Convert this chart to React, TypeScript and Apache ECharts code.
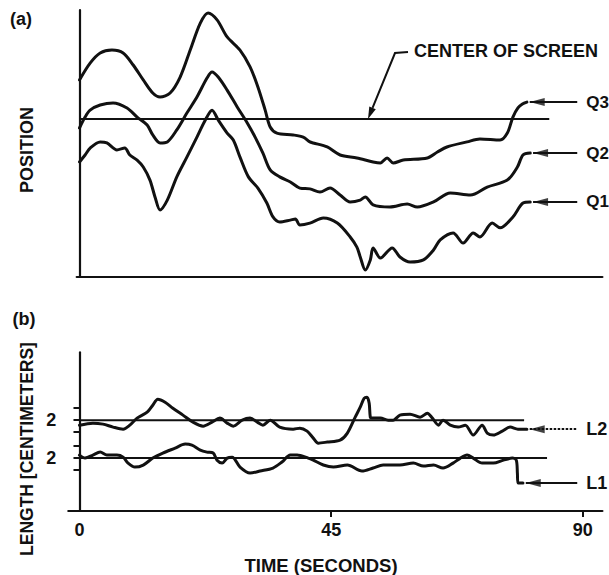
import React, { useEffect, useRef } from "react";
import * as echarts from "echarts";

const FONT = '"Liberation Sans", Arial, Helvetica, sans-serif';
const INK = "#111";

// ---- Panel (a): position (arbitrary units, 0-100) vs time (s) ----
const Q3: [number, number][] = [
  [0, 73.8], [1.9, 80.1], [3.7, 83.9], [5.8, 85.0], [7.8, 83.9], [9.6, 79.4], [11.4, 73.8],
  [13.1, 68.9], [14.4, 67.4], [16.2, 68.9], [18.0, 74.9], [19.8, 85.0], [21.6, 95.1], [23.0, 98.9],
  [24.6, 96.3], [26.4, 89.9], [28.7, 85.0], [30.5, 78.7], [31.9, 71.2], [33.2, 62.5], [34.1, 56.2],
  [35.3, 53.9], [38.2, 53.2], [40.0, 52.4], [41.2, 50.6], [41.8, 50.2], [44.3, 48.7], [46.6, 45.7],
  [49.6, 44.6], [52.5, 43.1], [53.8, 42.7], [55.0, 44.6], [56.1, 42.7], [57.9, 43.8], [62.2, 44.6],
  [64.0, 46.8], [65.7, 48.7], [69.3, 50.6], [71.6, 51.7], [75.2, 51.3], [76.5, 53.9], [77.5, 59.9],
  [78.4, 63.3], [79.2, 64.8], [80.0, 65.5],
];
const Q2: [number, number][] = [
  [0, 55.8], [1.0, 59.9], [1.9, 62.5], [3.7, 64.4], [6.0, 65.2], [8.5, 63.3], [10.3, 59.9],
  [12.1, 56.9], [13.1, 53.2], [14.4, 50.2], [15.7, 50.6], [17.4, 55.1], [19.2, 61.4], [21.0, 67.4],
  [22.8, 74.5], [23.7, 76.8], [24.8, 74.9], [26.4, 70.0], [28.2, 63.7], [30.0, 57.7], [31.4, 52.4],
  [32.8, 46.4], [34.1, 40.1], [35.8, 37.5], [37.7, 35.6], [39.4, 33.3], [41.2, 33.0], [43.0, 31.8],
  [44.8, 33.3], [46.6, 30.7], [48.4, 28.1], [50.2, 28.8], [51.1, 30.0], [52.5, 27.0], [55.5, 26.2],
  [58.6, 27.3], [60.4, 26.2], [63.3, 28.1], [66.3, 31.5], [69.9, 30.7], [72.9, 33.7], [76.5, 36.3],
  [78.3, 41.2], [79.3, 45.7], [80.6, 46.4],
];
const Q1: [number, number][] = [
  [0, 43.1], [1.0, 45.7], [1.9, 48.3], [3.7, 50.6], [4.9, 50.2], [6.7, 47.6], [8.1, 48.3],
  [9.0, 45.7], [10.3, 43.8], [11.4, 41.2], [12.6, 36.3], [13.5, 30.0], [14.4, 25.1], [15.7, 28.8],
  [17.4, 37.5], [19.2, 44.9], [21.0, 52.4], [22.5, 58.8], [23.7, 62.5], [24.8, 58.8], [26.4, 53.9],
  [27.5, 51.3], [28.7, 44.9], [30.2, 37.5], [31.9, 33.3], [33.5, 27.7], [34.6, 22.5], [35.8, 20.6],
  [37.7, 21.3], [38.6, 21.7], [39.4, 19.5], [41.2, 20.2], [43.6, 22.1], [46.1, 20.2], [48.4, 15.0],
  [49.6, 11.2], [50.2, 7.5], [51.1, 2.6], [52.0, 6.4], [52.5, 10.9], [53.8, 7.1], [55.9, 10.9],
  [57.3, 7.5], [59.1, 5.6], [61.5, 6.4], [63.3, 10.1], [64.5, 13.9], [66.8, 16.5], [68.6, 12.7],
  [70.4, 16.5], [71.6, 15.0], [73.8, 20.2], [75.2, 18.4], [77.5, 22.5], [79.3, 27.7], [80.6, 28.1],
];
const CENTER_OF_SCREEN = 59.2;
const CENTER_LINE_END = 84;

// ---- Panel (b): length (cm) vs time (s) ----
const L2: [number, number][] = [
  [0, 1.58], [2.4, 1.75], [4.2, 1.67], [6.0, 1.42], [7.8, 1.25], [9.0, 1.58], [10.3, 2.17],
  [12.1, 2.67], [13.1, 3.25], [14.0, 3.75], [15.3, 3.5], [16.7, 3.0], [18.5, 2.42], [20.3, 1.83],
  [22.1, 1.5], [23.7, 1.83], [25.1, 2.17], [26.4, 1.75], [27.5, 1.5], [29.1, 2.0], [30.5, 2.17],
  [31.8, 1.83], [32.8, 1.58], [34.1, 2.0], [35.8, 1.42], [38.2, 1.25], [39.4, 1.33], [40.7, 1.08],
  [41.8, 0.5], [42.7, 0.08], [44.3, 0.17], [46.6, 0.33], [47.9, 0.92], [49.3, 2.25], [50.2, 3.08],
  [50.9, 3.83], [51.4, 3.92], [51.8, 3.42], [52.0, 2.25], [52.3, 2.17], [53.8, 2.17], [55.2, 2.0],
  [56.1, 2.0], [57.3, 2.42], [59.1, 2.5], [60.9, 2.25], [62.2, 2.58], [63.1, 2.17], [64.2, 1.58],
  [65.0, 2.0], [66.3, 1.58], [67.7, 1.42], [69.0, 1.58], [70.4, 0.75], [72.0, 1.58], [72.9, 0.92],
  [74.0, 0.75], [75.6, 1.08], [77.0, 1.42], [78.4, 1.25], [80.0, 1.25],
];
const L1: [number, number][] = [
  [0, 2.25], [1.0, 2.0], [2.4, 2.25], [3.7, 2.5], [4.9, 2.25], [6.7, 2.25], [7.8, 2.08],
  [8.7, 1.58], [9.9, 1.25], [11.4, 1.42], [13.1, 2.0], [14.9, 2.42], [17.1, 2.83], [18.9, 3.17],
  [20.1, 3.08], [21.6, 2.67], [22.8, 2.5], [23.9, 2.42], [24.6, 1.83], [25.5, 1.58], [26.4, 2.0],
  [27.3, 2.08], [28.7, 1.25], [30.5, 0.75], [32.3, 0.92], [34.6, 1.17], [36.2, 1.67], [37.7, 2.25],
  [38.9, 2.25], [40.9, 2.0], [41.8, 1.83], [43.6, 1.42], [45.4, 1.25], [47.9, 1.42], [50.5, 0.92],
  [52.5, 1.17], [54.3, 1.42], [57.3, 1.42], [59.7, 1.58], [61.5, 1.33], [63.3, 1.42], [65.0, 1.17],
  [66.8, 1.58], [68.1, 2.0], [69.3, 2.25], [70.4, 2.0], [72.0, 1.58], [74.0, 1.58], [75.8, 1.83],
  [77.4, 2.0], [78.1, 1.83], [78.3, 0.75], [78.4, -0.08], [79.3, -0.08],
];
const L_BASELINE = 2;
const L2_BASELINE_END = 79.5;
const L1_BASELINE_END = 83.6;
const L2_OFFSET = 3.17; // vertical display offset of trace L2
const X_LABELS = [0, 45, 90];
const X_TICKS = [45, 90];
const ARROW_END = 89;

const PX_PER_SEC = 5.593; // used only to centre the arrowhead symbols
const HEAD_LEN = 15;

const boldText = (size: number) => ({
  color: INK,
  fontFamily: FONT,
  fontWeight: "bold" as const,
  fontSize: size,
});

function curve(
  name: string,
  data: [number, number][],
  gridIdx: number,
  label: string,
  labelSize: number,
  offset = 0,
  dashed = false
) {
  const last = data[data.length - 1];
  const y = last[1] + offset;
  return {
    type: "line",
    name,
    xAxisIndex: gridIdx,
    yAxisIndex: gridIdx,
    data: data.map(([t, v]) => [t, v + offset]),
    smooth: 0.3,
    showSymbol: false,
    silent: true,
    lineStyle: { color: INK, width: 3, cap: "round", join: "round" },
    markLine: {
      silent: true,
      symbol: ["none", "none"],
      lineStyle: { color: INK, width: 2, type: dashed ? [2.5, 1.5] : "solid" },
      label: { show: true, position: "end", formatter: label, distance: 9, ...boldText(labelSize) },
      emphasis: { disabled: true },
      data: [[{ coord: [last[0] + 0.5, y] }, { coord: [ARROW_END, y] }]],
    },
  };
}

function arrowHeads(gridIdx: number, items: { data: [number, number][]; offset: number }[]) {
  return {
    type: "scatter",
    xAxisIndex: gridIdx,
    yAxisIndex: gridIdx,
    silent: true,
    symbol: "triangle",
    symbolRotate: 90,
    symbolSize: [8, HEAD_LEN],
    itemStyle: { color: INK },
    data: items.map(({ data, offset }) => {
      const last = data[data.length - 1];
      return [last[0] + 0.5 + HEAD_LEN / 2 / PX_PER_SEC, last[1] + offset];
    }),
  };
}

function refLine(gridIdx: number, value: number, end: number) {
  return {
    type: "line",
    xAxisIndex: gridIdx,
    yAxisIndex: gridIdx,
    data: [
      [0, value],
      [end, value],
    ],
    showSymbol: false,
    silent: true,
    lineStyle: { color: INK, width: 2 },
  };
}

const axisLine = { show: true, lineStyle: { color: INK, width: 2.2 } };

// leader for "CENTER OF SCREEN"
const tip = [368, 119];
const bend = [395, 53];
const dx = tip[0] - bend[0];
const dy = tip[1] - bend[1];
const len = Math.hypot(dx, dy);
const ux = dx / len;
const uy = dy / len;
const baseX = tip[0] - ux * 12;
const baseY = tip[1] - uy * 12;

const option = {
  animation: false,
  grid: [
    { left: 76.7, right: 6.6, top: 10, bottom: 298 },
    { left: 68.3, right: 6.6, top: 352.4, bottom: 64 },
  ],
  xAxis: [
    {
      type: "value",
      gridIndex: 0,
      min: -0.5,
      max: 93.5,
      axisLine: { ...axisLine, onZero: false },
      axisTick: { show: false },
      axisLabel: { show: false },
      splitLine: { show: false },
    },
    {
      type: "value",
      gridIndex: 1,
      min: -2,
      max: 93.5,
      axisLine: { ...axisLine, onZero: false },
      axisTick: {
        show: true,
        customValues: X_TICKS,
        length: 6,
        lineStyle: { color: INK, width: 2 },
      },
      axisLabel: { show: true, customValues: X_LABELS, margin: 10, ...boldText(18) },
      splitLine: { show: false },
    },
  ],
  yAxis: [
    {
      type: "value",
      gridIndex: 0,
      min: 0,
      max: 100,
      axisLine: { ...axisLine, onZero: true },
      axisTick: { show: false },
      axisLabel: { show: false },
      splitLine: { show: false },
    },
    {
      type: "value",
      gridIndex: 1,
      min: -2.42,
      max: 10.83,
      axisLine: { ...axisLine, onZero: true },
      axisTick: {
        show: true,
        length: 6,
        customValues: [
          L_BASELINE - 1,
          L_BASELINE,
          L_BASELINE + 1,
          L_BASELINE - 1 + L2_OFFSET,
          L_BASELINE + L2_OFFSET,
          L_BASELINE + 1 + L2_OFFSET,
        ],
        lineStyle: { color: INK, width: 2 },
      },
      axisLabel: {
        show: true,
        customValues: [L_BASELINE, L_BASELINE + L2_OFFSET],
        formatter: () => String(L_BASELINE),
        margin: 12,
        ...boldText(18),
      },
      splitLine: { show: false },
    },
  ],
  series: [
    refLine(0, CENTER_OF_SCREEN, CENTER_LINE_END),
    curve("Q3", Q3, 0, "Q3", 17),
    curve("Q2", Q2, 0, "Q2", 17),
    curve("Q1", Q1, 0, "Q1", 17),
    arrowHeads(0, [
      { data: Q3, offset: 0 },
      { data: Q2, offset: 0 },
      { data: Q1, offset: 0 },
    ]),
    refLine(1, L_BASELINE + L2_OFFSET, L2_BASELINE_END),
    refLine(1, L_BASELINE, L1_BASELINE_END),
    curve("L2", L2, 1, "L2", 18, L2_OFFSET, true),
    curve("L1", L1, 1, "L1", 18),
    arrowHeads(1, [
      { data: L2, offset: L2_OFFSET },
      { data: L1, offset: 0 },
    ]),
  ],
  graphic: [
    {
      type: "text",
      x: 21,
      y: 19,
      style: { text: "(a)", fill: INK, font: `bold 18px ${FONT}`, align: "center", verticalAlign: "middle" },
    },
    {
      type: "text",
      x: 24,
      y: 319,
      style: { text: "(b)", fill: INK, font: `bold 18px ${FONT}`, align: "center", verticalAlign: "middle" },
    },
    {
      type: "text",
      x: 27,
      y: 150,
      rotation: Math.PI / 2,
      style: { text: "POSITION", fill: INK, font: `bold 18px ${FONT}`, align: "center", verticalAlign: "middle" },
    },
    {
      type: "text",
      x: 27,
      y: 449,
      rotation: Math.PI / 2,
      style: {
        text: "LENGTH [CENTIMETERS]",
        fill: INK,
        font: `bold 17.5px ${FONT}`,
        align: "center",
        verticalAlign: "middle",
      },
    },
    {
      type: "text",
      x: 321,
      y: 565,
      style: { text: "TIME (SECONDS)", fill: INK, font: `bold 18.5px ${FONT}`, align: "center", verticalAlign: "middle" },
    },
    {
      type: "text",
      x: 414,
      y: 51,
      style: { text: "CENTER OF SCREEN", fill: INK, font: `bold 18px ${FONT}`, align: "left", verticalAlign: "middle" },
    },
    {
      type: "polyline",
      shape: { points: [[408, 52], bend, [baseX, baseY]] },
      style: { stroke: INK, lineWidth: 2, fill: "none" },
    },
    {
      type: "polygon",
      shape: {
        points: [
          tip,
          [baseX + uy * 3.5, baseY - ux * 3.5],
          [baseX - uy * 3.5, baseY + ux * 3.5],
        ],
      },
      style: { fill: INK },
    },
  ],
};

export default function App() {
  const ref = useRef<HTMLDivElement>(null);
  useEffect(() => {
    const chart = echarts.init(ref.current!, null, { renderer: "svg" });
    chart.setOption(option as any);
    return () => chart.dispose();
  }, []);
  return (
    <div
      ref={ref}
      style={{ position: "fixed", left: 0, top: 0, width: 609, height: 575, background: "#fff" }}
    />
  );
}
